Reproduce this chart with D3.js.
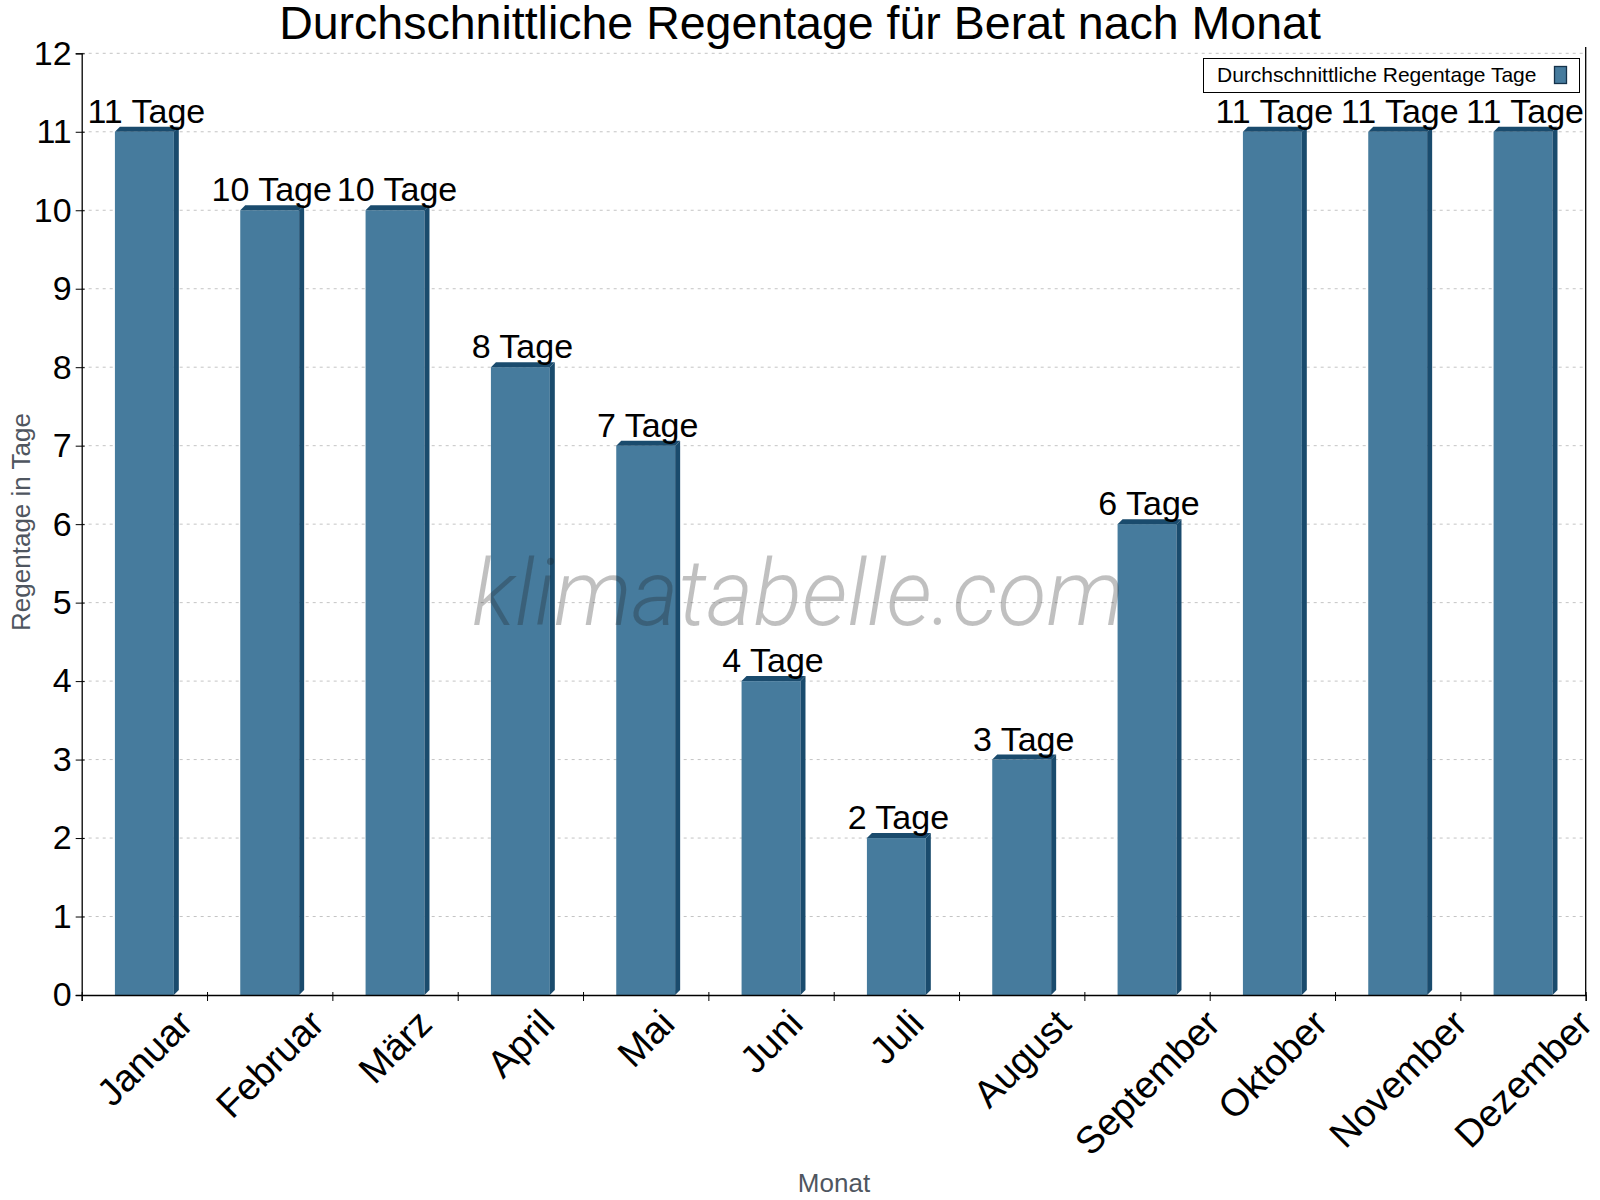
<!DOCTYPE html>
<html>
<head>
<meta charset="utf-8">
<script src="https://cdn.jsdelivr.net/npm/d3@7"></script>
<style>
  body { margin: 0; background: #fff; }
  svg { display: block; font-family: "Liberation Sans", Arial, sans-serif; }
</style>
</head>
<body>
<div id="chart"></div>
<script>
// Data
const months = ['Januar', 'Februar', 'März', 'April', 'Mai', 'Juni', 'Juli', 'August', 'September', 'Oktober', 'November', 'Dezember'];
const rainDays = [11, 10, 10, 8, 7, 4, 2, 3, 6, 11, 11, 11];
const yTicks = [0, 1, 2, 3, 4, 5, 6, 7, 8, 9, 10, 11, 12];
const unit = 'Tage';

const W = 1600, H = 1200;
const plotLeft = 81.7, plotRight = 1585.7, plotTop = 53.3, plotBottom = 995;
const barColor = '#467b9d';
const sideColor = '#1a4b6d';
const depth = 5;

const svg = d3.select('#chart').append('svg')
    .attr('width', W)
    .attr('height', H);

// Scales
const x = d3.scaleBand()
    .domain(months)
    .range([plotLeft, plotRight])
    .paddingInner(0.53)
    .paddingOuter(0.265);

const xEdges = d3.scaleLinear()
    .domain([0, months.length])
    .range([plotLeft, plotRight]);

const y = d3.scaleLinear()
    .domain([0, 12])
    .range([plotBottom, plotTop]);

// Gridlines
svg.append('g')
    .selectAll('line')
    .data(yTicks.filter(d => d > 0))
  .enter().append('line')
    .attr('x1', plotLeft)
    .attr('x2', plotRight)
    .attr('y1', d => y(d))
    .attr('y2', d => y(d))
    .attr('stroke', '#c4c4c4')
    .attr('stroke-width', 1)
    .attr('stroke-dasharray', '3,4');

// Bars (pseudo 3D)
const bars = svg.append('g');
months.forEach((m, i) => {
    const x0 = x(m), w = x.bandwidth();
    const y0 = y(rainDays[i]), yb = y(0);
    const g = bars.append('g');
    g.append('rect')
        .attr('x', x0)
        .attr('y', y0)
        .attr('width', w)
        .attr('height', yb - y0)
        .attr('fill', barColor);
    g.append('polygon')
        .attr('points', [[x0 + w, y0], [x0 + w + depth, y0 - depth], [x0 + w + depth, yb - depth], [x0 + w, yb]].join(' '))
        .attr('fill', sideColor);
    g.append('polygon')
        .attr('points', [[x0, y0], [x0 + depth, y0 - depth], [x0 + w + depth, y0 - depth], [x0 + w, y0]].join(' '))
        .attr('fill', sideColor);
});

// Y axis
const yAxis = svg.append('g')
    .attr('transform', `translate(${plotLeft},0)`)
    .call(d3.axisLeft(y).tickValues(yTicks).tickSize(6).tickPadding(4).tickFormat(d3.format('d')));
yAxis.select('.domain').attr('stroke', '#000').attr('stroke-width', 1.3);
yAxis.selectAll('.tick line').attr('x1', 3).attr('stroke', '#000');
yAxis.selectAll('.tick text')
    .style('font-size', '34px')
    .style('font-family', '"Liberation Sans", Arial, sans-serif')
    .attr('fill', '#000');

// X axis (ticks at band edges)
const xAxis = svg.append('g')
    .attr('transform', `translate(0,${plotBottom})`)
    .call(d3.axisBottom(xEdges).tickValues(d3.range(months.length + 1)).tickSize(6).tickFormat(''));
xAxis.select('.domain').attr('stroke', '#000').attr('stroke-width', 1.3);
xAxis.selectAll('.tick line').attr('y1', -3).attr('stroke', '#000');

// Right frame line
svg.append('line')
    .attr('x1', plotRight).attr('x2', plotRight)
    .attr('y1', 47).attr('y2', plotBottom)
    .attr('stroke', '#000')
    .attr('stroke-width', 1.3);

// Month labels, rotated, bbox centered on band
const labelTop = 1007;
const labelSize = 38;
months.forEach(m => {
    const cx = x(m) + x.bandwidth() / 2;
    const t = svg.append('text')
        .attr('text-anchor', 'middle')
        .attr('dy', '0.35em')
        .style('font-size', labelSize + 'px')
        .text(m);
    const tw = t.node().getComputedTextLength();
    const hh = (tw + labelSize * 0.72) * Math.SQRT1_2;
    t.attr('transform', `translate(${cx},${labelTop + hh / 2}) rotate(-45)`);
});

// Value labels
svg.append('g')
    .selectAll('text')
    .data(rainDays)
  .enter().append('text')
    .attr('x', (d, i) => x(months[i]) + x.bandwidth() / 2 + 2)
    .attr('y', d => y(d) - 9)
    .attr('text-anchor', 'middle')
    .style('font-size', '34px')
    .text(d => `${d} ${unit}`);

// Watermark
svg.append('text')
    .attr('x', 798)
    .attr('y', 625)
    .attr('text-anchor', 'middle')
    .attr('textLength', 652)
    .attr('lengthAdjust', 'spacingAndGlyphs')
    .style('font-family', 'Roboto, "Liberation Sans", sans-serif')
    .style('font-weight', '300')
    .style('font-size', '92px')
    .style('font-style', 'italic')
    .attr('fill', '#1e1e1e')
    .attr('fill-opacity', 0.28)
    .text('klimatabelle.com');

// Title
svg.append('text')
    .attr('x', 800)
    .attr('y', 39)
    .attr('text-anchor', 'middle')
    .style('font-size', '46.5px')
    .text('Durchschnittliche Regentage für Berat nach Monat');

// Axis titles
svg.append('text')
    .attr('x', 834)
    .attr('y', 1192)
    .attr('text-anchor', 'middle')
    .style('font-size', '26px')
    .attr('fill', '#4f5660')
    .text('Monat');

svg.append('text')
    .attr('transform', 'translate(30,522) rotate(-90)')
    .attr('text-anchor', 'middle')
    .style('font-size', '26px')
    .attr('fill', '#4f5660')
    .text('Regentage in Tage');

// Legend
const legend = svg.append('g');
legend.append('rect')
    .attr('x', 1203.5).attr('y', 58.5)
    .attr('width', 376).attr('height', 34)
    .attr('fill', '#fff')
    .attr('stroke', '#000')
    .attr('stroke-width', 1);
legend.append('text')
    .attr('x', 1217)
    .attr('y', 82)
    .style('font-size', '21px')
    .text('Durchschnittliche Regentage Tage');
legend.append('rect')
    .attr('x', 1554.5).attr('y', 66.5)
    .attr('width', 12).attr('height', 17)
    .attr('fill', barColor)
    .attr('stroke', '#15324a')
    .attr('stroke-width', 1.3);
</script>
</body>
</html>
